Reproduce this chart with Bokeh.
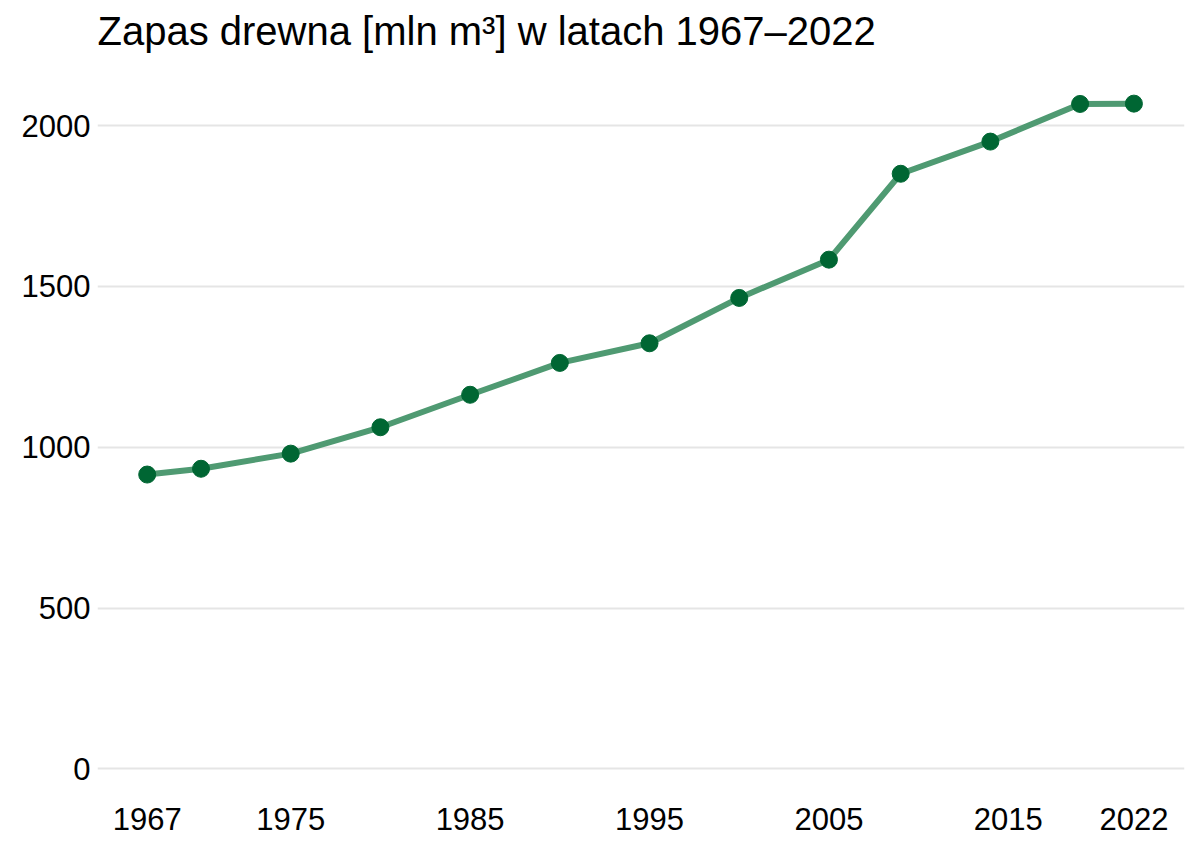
from bokeh.plotting import figure
from bokeh.models import ColumnDataSource, FixedTicker, Range1d
from bokeh.embed import file_html
from bokeh.resources import INLINE

years = [1967, 1970, 1975, 1980, 1985, 1990, 1995, 2000, 2005, 2009, 2014, 2019, 2022]
volume = [915, 933, 980, 1062, 1163, 1262, 1323, 1464, 1583, 1850, 1950, 2067, 2068]
x_ticks = [1967, 1975, 1985, 1995, 2005, 2015, 2022]
y_ticks = [0, 500, 1000, 1500, 2000]
title_text = "Zapas drewna [mln m³] w latach 1967–2022"

src = ColumnDataSource(data=dict(year=years, volume=volume))

p = figure(width=1192, height=848, output_backend="svg", toolbar_location=None,
           x_range=Range1d(1964.23, 2024.82), y_range=Range1d(-82.7, 2211.4),
           min_border_left=97, min_border_right=8, min_border_top=57, min_border_bottom=53)

p.title.text = title_text
p.title.text_font = "Liberation Sans"
p.title.text_font_size = "40px"
p.title.text_font_style = "normal"
p.title.text_color = "#000000"
p.title.standoff = 10
p.title.offset = 0

p.line("year", "volume", source=src, line_color="#4f9a72", line_width=6)
p.scatter("year", "volume", source=src, size=17, fill_color="#006633", line_color="#006633")

p.xaxis.ticker = FixedTicker(ticks=x_ticks)
p.yaxis.ticker = FixedTicker(ticks=y_ticks)
for ax in (p.xaxis[0], p.yaxis[0]):
    ax.axis_line_color = None
    ax.major_tick_line_color = None
    ax.minor_tick_line_color = None
    ax.major_tick_out = 0
    ax.major_tick_in = 0
    ax.minor_tick_out = 0
    ax.major_label_text_font = "Liberation Sans"
    ax.major_label_text_font_size = "31px"
    ax.major_label_text_color = "#000000"
p.xaxis.major_label_standoff = 12
p.yaxis.major_label_standoff = 7

p.xgrid.grid_line_color = None
p.ygrid.grid_line_color = "#e5e5e5"
p.ygrid.grid_line_width = 2
p.outline_line_color = None
p.background_fill_color = "white"
p.border_fill_color = "white"

open("out.html", "w").write(file_html(p, INLINE))
